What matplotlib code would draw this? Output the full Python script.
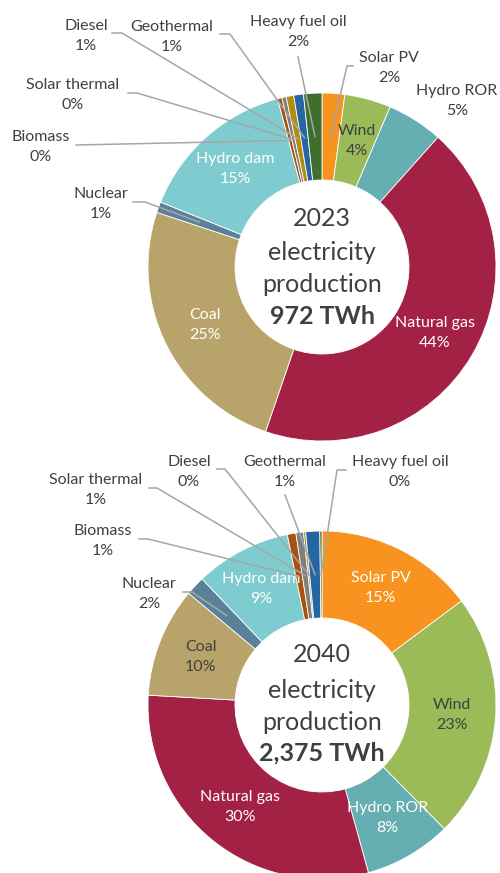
import numpy as np
import matplotlib.pyplot as plt

W, H = 500, 873

# energy mix, share of production in %
sources = ["Solar PV", "Wind", "Hydro ROR", "Natural gas", "Coal", "Nuclear",
           "Hydro dam", "Biomass", "Solar thermal", "Diesel", "Geothermal",
           "Heavy fuel oil"]
share_2023 = [2.1, 4.3, 5.2, 43.6, 24.8, 1.0, 14.8, 0.4, 0.4, 0.7, 0.9, 1.7]
share_2040 = [14.8, 22.8, 8.1, 30.2, 10.2, 1.8, 8.9, 0.8, 0.7, 0.2, 1.3, 0.2]
years = ["2023", "2040"]
totals = ["972 TWh", "2,375 TWh"]

colors = ["#F7931E", "#9BBB59", "#65AFB2", "#A32145", "#B8A36B", "#5B8199",
          "#7ECCCF", "#A9520F", "#7F7F7F", "#B08D0C", "#2466A4", "#3F6E2D"]

DARK = "#404040"
LINE = "#A6A6A6"

plt.rcParams['font.family'] = ['Lato', 'DejaVu Sans']


def up(x, y):
    # picture coords (y down) -> axes data coords (y up)
    return x, H - y


# layout of each donut (pixel coords, y down)
layouts = [
    dict(center=(322, 267),
         inside={"Wind": DARK, "Natural gas": "white", "Coal": "white",
                 "Hydro dam": "white"},
         outside={"Hydro ROR": ((457, 101), None, None),
                  "Solar PV": ((389, 68), (353, 66), (347, 66)),
                  "Heavy fuel oil": ((298, 32), (298, 57), None),
                  "Geothermal": ((172, 37), (220, 34), (230, 34)),
                  "Diesel": ((86, 36), (112, 33), (122, 33)),
                  "Solar thermal": ((73, 95), (128, 93), (137, 93)),
                  "Biomass": ((41, 147), (76, 145), None),
                  "Nuclear": ((101, 204), (133, 202), (145, 202))},
         text_dy=[-49, -15, 17, 49]),
    dict(center=(322, 705),
         inside={"Solar PV": "white", "Wind": DARK, "Hydro ROR": "white",
                 "Natural gas": "white", "Coal": DARK, "Hydro dam": "white"},
         outside={"Heavy fuel oil": ((400, 472), (346, 470), (337, 470)),
                  "Geothermal": ((285, 472), (285, 495), None),
                  "Diesel": ((189, 472), (217, 469), (225, 469)),
                  "Solar thermal": ((96, 490), (149, 488), (157, 488)),
                  "Biomass": ((103, 541), (139, 539), (148, 539)),
                  "Nuclear": ((149, 594), (183, 592), (192, 592))},
         text_dy=[-50, -15, 17, 48]),
]

R = 174
RING = 87

fig = plt.figure(figsize=(W / 100, H / 100), dpi=100)
ax = fig.add_axes([0, 0, 1, 1])

for shares, year, total, lay in zip([share_2023, share_2040], years, totals, layouts):
    cx, cy = up(*lay["center"])
    wedges, _ = ax.pie(shares, colors=colors, startangle=90, counterclock=False,
                       radius=R, center=(cx, cy),
                       wedgeprops=dict(width=RING, edgecolor="white", linewidth=0.6))
    tot = sum(shares)
    rm = R - RING / 2
    for name, v, w in zip(sources, shares, wedges):
        pct = f"{v / tot * 100:.0f}%"
        mid = np.deg2rad((w.theta1 + w.theta2) / 2)
        px, py = cx + rm * np.cos(mid), cy + rm * np.sin(mid)
        if name in lay["inside"]:
            ax.text(px, py, f"{name}\n{pct}", ha="center", va="center",
                    fontsize=11.5, color=lay["inside"][name], linespacing=1.55)
        elif name in lay["outside"]:
            pos, start, elbow = lay["outside"][name]
            ax.text(*up(*pos), f"{name}\n{pct}", ha="center", va="center",
                    fontsize=11.5, color=DARK, linespacing=1.55)
            if start is not None:
                pts = [up(*start)]
                if elbow is not None:
                    pts.append(up(*elbow))
                pts.append((px, py))
                xs, ys = zip(*pts)
                ax.plot(xs, ys, color=LINE, lw=1.1, zorder=5)
    lines = [year, "electricity", "production", total]
    for i, (s, dy) in enumerate(zip(lines, lay["text_dy"])):
        ax.text(cx, cy - dy, s, ha="center", va="center", fontsize=18,
                color=DARK, fontweight="bold" if i == 3 else "normal")

ax.set_xlim(0, W)
ax.set_ylim(0, H)
ax.set_aspect("equal")
ax.axis("off")

fig.savefig("out.png", dpi=100, facecolor="white")
